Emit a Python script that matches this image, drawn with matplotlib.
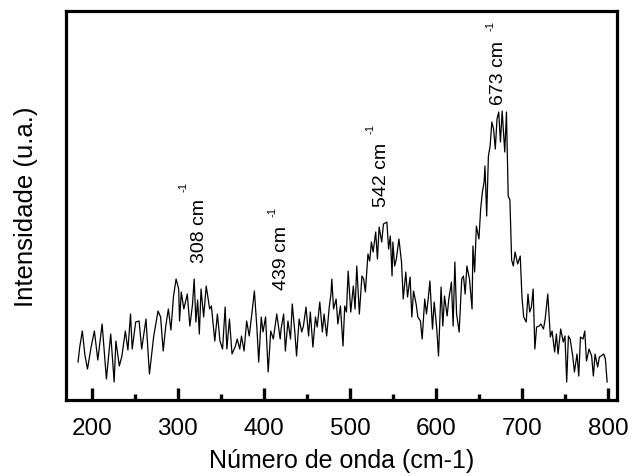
import numpy as np
import matplotlib
matplotlib.use('Agg')
import matplotlib.pyplot as plt
from matplotlib.ticker import MultipleLocator

plt.rcParams['font.family'] = ['Liberation Sans', 'DejaVu Sans']

# Raman spectrum: wavenumber (cm-1) and intensity (a.u.)
wavenumber = [184, 186, 189, 192, 195, 199, 203, 207, 212, 217, 222, 226, 228, 232, 235, 239,
              242, 245, 247, 251, 255, 258, 263, 267, 272, 277, 280, 283, 286, 289, 292, 295,
              298, 301, 302, 304, 307, 311, 314, 317, 319, 321, 323, 325, 327, 330, 333, 337,
              339, 343, 346, 349, 352, 355, 357, 360, 363, 367, 369, 372, 374, 377, 380, 383,
              386, 389, 392, 394, 397, 399, 402, 405, 408, 411, 415, 419, 420, 423, 425, 428,
              431, 433, 436, 438, 441, 444, 446, 449, 452, 454, 457, 460, 462, 465, 468, 470,
              473, 476, 478, 479, 481, 484, 486, 489, 492, 494, 496, 498, 501, 504, 506, 508,
              511, 514, 516, 518, 521, 523, 525, 527, 530, 532, 534, 537, 539, 543, 545, 547,
              549, 550, 552, 554, 557, 560, 562, 565, 567, 570, 572, 574, 577, 579, 582, 584,
              587, 589, 591, 593, 596, 598, 601, 603, 606, 608, 610, 613, 615, 618, 620, 622,
              624, 627, 630, 632, 634, 636, 639, 642, 643, 645, 647, 650, 652, 654, 656, 657,
              659, 661, 663, 665, 667, 669, 671, 673, 675, 677, 680, 682, 684, 686, 688, 690,
              692, 695, 698, 699, 700, 702, 705, 707, 709, 711, 713, 715, 717, 720, 722, 725,
              727, 730, 733, 735, 738, 740, 742, 745, 748, 750, 752, 754, 756, 759, 761, 764,
              766, 768, 771, 773, 775, 778, 781, 783, 785, 788, 790, 792, 795, 797, 799]
intensity = [38, 53, 69, 45, 31, 52, 69, 40, 76, 21, 66, 18, 59, 34, 44, 69,
             50, 86, 51, 78, 79, 51, 81, 26, 64, 89, 83, 49, 74, 91, 70, 104,
             121, 111, 79, 108, 91, 106, 74, 95, 121, 78, 100, 66, 111, 83, 114, 91,
             94, 59, 86, 59, 51, 93, 51, 81, 46, 54, 61, 51, 64, 49, 79, 64,
             86, 109, 71, 38, 83, 68, 83, 28, 69, 61, 86, 61, 71, 86, 49, 79,
             61, 96, 68, 44, 81, 68, 74, 93, 64, 88, 53, 83, 73, 98, 68, 86,
             64, 93, 106, 121, 91, 101, 76, 94, 54, 94, 88, 129, 88, 114, 91, 134,
             86, 124, 121, 108, 146, 139, 158, 148, 168, 141, 173, 158, 176, 178, 151, 164,
             124, 158, 134, 141, 161, 138, 101, 128, 103, 123, 83, 109, 96, 83, 79, 61,
             101, 86, 101, 119, 71, 98, 71, 44, 113, 74, 104, 84, 101, 118, 74, 138,
             86, 68, 121, 124, 106, 134, 121, 91, 154, 128, 174, 161, 191, 208, 218, 234,
             184, 244, 254, 278, 271, 251, 281, 288, 258, 289, 248, 288, 204, 200, 140, 134,
             148, 136, 144, 124, 103, 83, 78, 106, 88, 93, 111, 51, 73, 74, 76, 71,
             81, 106, 63, 69, 48, 66, 46, 71, 58, 64, 18, 64, 61, 44, 28, 46,
             24, 63, 61, 69, 39, 51, 44, 24, 46, 33, 43, 44, 46, 41, 18]

peak_labels = ['308', '439', '542', '673']

fig = plt.figure(figsize=(6.32, 4.77), dpi=100)
ax = fig.add_axes([0.1044, 0.1593, 0.8719, 0.8155])

ax.plot(wavenumber, intensity, color='black', lw=0.9)

ax.set_xlim(170, 810.5)
ax.set_ylim(0, 389)

ax.xaxis.set_major_locator(MultipleLocator(100))
ax.xaxis.set_minor_locator(MultipleLocator(50))
ax.tick_params(axis='x', which='major', direction='in', length=9, width=2.4,
               labelsize=17.5, pad=12)
ax.tick_params(axis='x', which='minor', direction='in', length=4, width=2.4)
ax.set_yticks([])
for s in ax.spines.values():
    s.set_linewidth(2.3)

ax.set_xlabel('Número de onda (cm-1)', fontsize=18, labelpad=7)
ax.set_ylabel('Intensidade (u.a.)', fontsize=18.5, labelpad=20)

# label positions (x centre, text bottom) and superscript positions
label_pos = [(325, 138), (420, 111), (536.6, 194), (672.7, 296)]
sup_pos = [(307, 214), (410, 189), (524, 272), (663, 375)]
for lab, (lx, ly), (sx, sy) in zip(peak_labels, label_pos, sup_pos):
    ax.text(lx, ly, lab + ' cm', rotation=90, ha='center', va='bottom', fontsize=14)
    ax.text(sx, sy, '-1', rotation=90, ha='center', va='center', fontsize=8)

fig.savefig('out.png', dpi=100)
